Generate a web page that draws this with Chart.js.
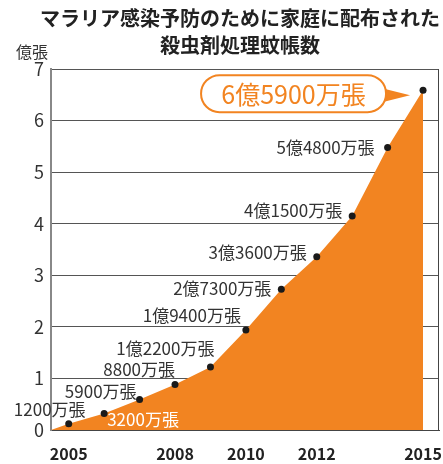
<!DOCTYPE html>
<html lang="ja">
<head>
<meta charset="UTF-8">
<title>殺虫剤処理蚊帳数</title>
<script src="https://cdn.jsdelivr.net/npm/chart.js"></script>
<style>
  body { margin: 0; background: #fff; }
  .wrap { width: 443px; height: 464px; position: relative; }
</style>
</head>
<body>
<div class="wrap"><canvas id="netChart"></canvas></div>
<script>
// data (億張)
const years = [2005, 2006, 2007, 2008, 2009, 2010, 2011, 2012, 2013, 2014, 2015];
const nets = [0.12, 0.32, 0.59, 0.88, 1.22, 1.94, 2.73, 3.36, 4.15, 5.48, 6.59];
const netLabels = ["1200万張", "3200万張", "5900万張", "8800万張", "1億2200万張", "1億9400万張",
                   "2億7300万張", "3億3600万張", "4億1500万張", "5億4800万張", "6億5900万張"];
const yearTicks = [2005, 2008, 2010, 2012, 2015];
const valueTicks = [0, 1, 2, 3, 4, 5, 6, 7];
const titleLines = ["マラリア感染予防のために家庭に配布された", "殺虫剤処理蚊帳数"];
const unitLabel = "億張";

const ORANGE = "#F28421";
const FONT = "'Noto Sans CJK JP', 'Noto Sans', sans-serif";
Chart.defaults.font.family = FONT;

const xMin = 2004.5, xMax = 2015.45;

// where each label sits relative to its point: [align, dx, dy]
const labelPlace = [
  ["center", -19, -14], ["left", 3, 6], ["right", -3, -8], ["right", 0, -15],
  ["right", 4, -19], ["right", -5, -14], ["right", -10, -1], ["right", -10, -4],
  ["right", -10, -5], ["right", -13, 0]
];

const points = years.map((y, i) => ({ x: y, y: nets[i] }));

const decor = {
  id: "decor",
  afterDatasetsDraw(chart) {
    const { ctx, chartArea: a } = chart;
    ctx.save();
    // right border of plot
    ctx.strokeStyle = "#444";
    ctx.lineWidth = 1;
    ctx.beginPath();
    ctx.moveTo(a.right - 0.5, a.top);
    ctx.lineTo(a.right - 0.5, a.bottom);
    ctx.stroke();

    // title
    ctx.fillStyle = "#222";
    ctx.textAlign = "center";
    ctx.textBaseline = "middle";
    ctx.font = "bold 20px " + FONT;
    ctx.fillText(titleLines[0], 240, 18);
    ctx.fillText(titleLines[1], 240, 45);

    // unit
    ctx.font = "16px " + FONT;
    ctx.fillStyle = "#333";
    ctx.fillText(unitLabel, 32, 52);

    // point labels
    const meta = chart.getDatasetMeta(1);
    ctx.font = "17px " + FONT;
    labelPlace.forEach((p, i) => {
      const el = meta.data[i];
      ctx.textAlign = p[0];
      ctx.fillStyle = i === 1 ? "#fff" : "#333";
      ctx.fillText(netLabels[i], el.x + p[1], el.y + p[2]);
    });

    // callout for last value
    const last = meta.data[meta.data.length - 1];
    const px = last.x, py = last.y;
    const L = px - 222, R = px - 37, T = py - 15, B = py + 22;
    const r = (B - T) / 2;
    ctx.fillStyle = ORANGE;
    ctx.beginPath();
    ctx.moveTo(R - 4, py - 2);
    ctx.lineTo(px - 13, py + 5);
    ctx.lineTo(R - 4, py + 12);
    ctx.closePath();
    ctx.fill();
    ctx.beginPath();
    ctx.moveTo(L + r, T);
    ctx.lineTo(R - r, T);
    ctx.arc(R - r, T + r, r, -Math.PI / 2, Math.PI / 2);
    ctx.lineTo(L + r, B);
    ctx.arc(L + r, T + r, r, Math.PI / 2, Math.PI * 1.5);
    ctx.closePath();
    ctx.fillStyle = "#fff";
    ctx.fill();
    ctx.strokeStyle = ORANGE;
    ctx.lineWidth = 2;
    ctx.stroke();
    ctx.fillStyle = ORANGE;
    ctx.textAlign = "center";
    ctx.font = "25px " + FONT;
    ctx.fillText(netLabels[netLabels.length - 1], (L + R) / 2, (T + B) / 2 + 1);
    ctx.restore();
  }
};

new Chart(document.getElementById("netChart"), {
  type: "line",
  data: {
    datasets: [
      {
        data: [{ x: xMin, y: 0 }].concat(points),
        fill: "origin",
        backgroundColor: ORANGE,
        borderWidth: 0,
        pointRadius: 0,
        tension: 0,
        order: 2
      },
      {
        data: points,
        showLine: false,
        pointRadius: 3.5,
        pointBackgroundColor: "#1a1a1a",
        pointBorderWidth: 0,
        order: 1
      }
    ]
  },
  options: {
    responsive: true,
    maintainAspectRatio: false,
    animation: false,
    layout: { padding: { top: 69, right: 2, left: 0, bottom: 0 } },
    plugins: { legend: { display: false }, tooltip: { enabled: false } },
    scales: {
      x: {
        type: "linear",
        min: xMin,
        max: xMax,
        afterBuildTicks: s => { s.ticks = yearTicks.map(v => ({ value: v })); },
        afterFit: s => { s.height = 34; s.paddingLeft = 0; s.paddingRight = 0; },
        grid: { display: false, drawTicks: false },
        border: { display: true, color: "#444", width: 1 },
        ticks: {
          padding: 14,
          color: "#222",
          font: { size: 16, weight: "bold" },
          callback: v => String(v)
        }
      },
      y: {
        min: 0,
        max: 7,
        afterBuildTicks: s => { s.ticks = valueTicks.map(v => ({ value: v })); },
        afterFit: s => { s.width = 51; s.paddingTop = 0; s.paddingBottom = 0; },
        grid: { color: "#555", lineWidth: 1, drawTicks: false },
        border: { display: true, color: "#888", width: 2 },
        ticks: { padding: 7, color: "#333", font: { size: 18 } }
      }
    }
  },
  plugins: [decor]
});
</script>
</body>
</html>
